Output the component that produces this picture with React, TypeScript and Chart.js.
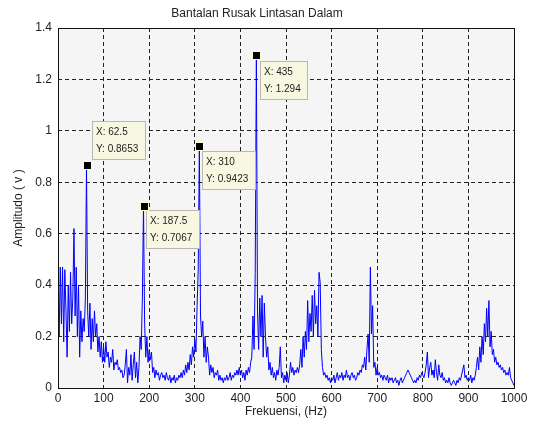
import React, { useEffect, useRef } from "react";
import { Chart, registerables } from "chart.js";

Chart.register(...registerables);

const TITLE = "Bantalan Rusak Lintasan Dalam";
const X_LABEL = "Frekuensi, (Hz)";
const Y_LABEL = "Amplitudo ( v )";

const FREQ_STEP = 2.5; // Hz between spectrum samples

const X_TICK_VALUES = [0, 100, 200, 300, 400, 500, 600, 700, 800, 900, 1000];
const X_TICK_LABELS = ["0", "100", "200", "300", "400", "500", "600", "700", "800", "900", "1000"];
const Y_TICK_VALUES = [0, 0.2, 0.4, 0.6, 0.8, 1.0, 1.2, 1.4];
const Y_TICK_LABELS = ["0", "0.2", "0.4", "0.6", "0.8", "1", "1.2", "1.4"];

// amplitude, 0 .. 97.5 Hz
const AMP_000 = [
  0.36, 0.2, 0.47, 0.25, 0.47, 0.18, 0.46, 0.3, 0.12, 0.4,
  0.22, 0.45, 0.25, 0.35, 0.62, 0.28, 0.47, 0.2, 0.4, 0.12,
  0.3, 0.18, 0.27, 0.22, 0.35, 0.8653, 0.3, 0.2, 0.33, 0.15,
  0.27, 0.18, 0.3, 0.2, 0.25, 0.14, 0.2, 0.12, 0.18, 0.1,
];
// 100 .. 197.5 Hz
const AMP_100 = [
  0.16, 0.1, 0.18, 0.12, 0.14, 0.08, 0.12, 0.1, 0.15, 0.07,
  0.1, 0.09, 0.11, 0.07, 0.08, 0.06, 0.07, 0.04, 0.05, 0.09,
  0.15, 0.02, 0.08, 0.05, 0.13, 0.03, 0.09, 0.14, 0.04, 0.1,
  0.02, 0.08, 0.2, 0.15, 0.35, 0.7067, 0.25, 0.12, 0.2, 0.1,
];
// 200 .. 297.5 Hz
const AMP_200 = [
  0.15, 0.11, 0.14, 0.06, 0.08, 0.04, 0.07, 0.05, 0.06, 0.03,
  0.05, 0.06, 0.04, 0.05, 0.03, 0.06, 0.04, 0.03, 0.05, 0.02,
  0.04, 0.03, 0.05, 0.02, 0.04, 0.03, 0.05, 0.04, 0.06, 0.04,
  0.07, 0.05, 0.09, 0.06, 0.1, 0.07, 0.13, 0.09, 0.16, 0.12,
];
// 300 .. 397.5 Hz
const AMP_300 = [
  0.19, 0.14, 0.32, 0.46, 0.9423, 0.28, 0.2, 0.26, 0.12, 0.2,
  0.1, 0.16, 0.12, 0.05, 0.09, 0.06, 0.08, 0.04, 0.06, 0.05,
  0.07, 0.03, 0.05, 0.03, 0.04, 0.02, 0.04, 0.03, 0.05, 0.03,
  0.04, 0.06, 0.03, 0.05, 0.04, 0.06, 0.05, 0.07, 0.05, 0.08,
];
// 400 .. 497.5 Hz
const AMP_400 = [
  0.05, 0.07, 0.04, 0.06, 0.03, 0.07, 0.05, 0.08, 0.06, 0.1,
  0.12, 0.28, 0.15, 0.45, 1.294, 0.3, 0.15, 0.35, 0.2, 0.36,
  0.12, 0.33, 0.2, 0.12, 0.16, 0.07, 0.1, 0.05, 0.08, 0.04,
  0.06, 0.03, 0.07, 0.05, 0.08, 0.16, 0.04, 0.06, 0.02, 0.05,
];
// 500 .. 597.5 Hz
const AMP_500 = [
  0.03, 0.06, 0.02, 0.05, 0.1, 0.06, 0.08, 0.05, 0.07, 0.06,
  0.08, 0.06, 0.09, 0.15, 0.08, 0.2, 0.12, 0.22, 0.15, 0.34,
  0.18, 0.29, 0.22, 0.36, 0.2, 0.38, 0.25, 0.32, 0.2, 0.45,
  0.41, 0.15, 0.08, 0.05, 0.06, 0.04, 0.05, 0.03, 0.04, 0.02,
];
// 600 .. 697.5 Hz
const AMP_600 = [
  0.04, 0.03, 0.05, 0.02, 0.04, 0.06, 0.03, 0.05, 0.04, 0.06,
  0.03, 0.05, 0.04, 0.07, 0.04, 0.05, 0.03, 0.05, 0.06, 0.04,
  0.05, 0.03, 0.04, 0.06, 0.05, 0.07, 0.06, 0.09, 0.08, 0.12,
  0.07, 0.15, 0.21, 0.1, 0.47, 0.21, 0.32, 0.08, 0.1, 0.05,
];
// 700 .. 797.5 Hz
const AMP_700 = [
  0.08, 0.05, 0.06, 0.04, 0.05, 0.03, 0.05, 0.04, 0.03, 0.05,
  0.02, 0.04, 0.03, 0.04, 0.02, 0.03, 0.04, 0.02, 0.03, 0.01,
  0.03, 0.04, 0.02, 0.03, 0.04, 0.05, 0.06, 0.07, 0.06, 0.05,
  0.04, 0.03, 0.02, 0.03, 0.02, 0.04, 0.03, 0.05, 0.04, 0.06,
];
// 800 .. 897.5 Hz
const AMP_800 = [
  0.05, 0.04, 0.06, 0.09, 0.14, 0.04, 0.08, 0.1, 0.05, 0.07,
  0.04, 0.11, 0.06, 0.03, 0.09, 0.05, 0.04, 0.06, 0.03, 0.04,
  0.02, 0.03, 0.02, 0.04, 0.02, 0.01, 0.02, 0.03, 0.02, 0.01,
  0.03, 0.02, 0.04, 0.03, 0.05, 0.07, 0.09, 0.04, 0.05, 0.03,
];
// 900 .. 1000 Hz
const AMP_900 = [
  0.04, 0.03, 0.05, 0.02, 0.04, 0.03, 0.05, 0.08, 0.12, 0.07,
  0.16, 0.1, 0.2, 0.13, 0.25, 0.18, 0.31, 0.2, 0.34, 0.16,
  0.22, 0.13, 0.15, 0.1, 0.12, 0.09, 0.1, 0.08, 0.09, 0.07,
  0.08, 0.06, 0.07, 0.05, 0.06, 0.05, 0.08, 0.04, 0.03, 0.02,
  0.01,
];

const AMPLITUDE = [
  ...AMP_000, ...AMP_100, ...AMP_200, ...AMP_300, ...AMP_400,
  ...AMP_500, ...AMP_600, ...AMP_700, ...AMP_800, ...AMP_900,
];

// data tips
const TIP_X = [62.5, 187.5, 310, 435];
const TIP_Y = [0.8653, 0.7067, 0.9423, 1.294];
const TIP_X_TEXT = ["62.5", "187.5", "310", "435"];
const TIP_Y_TEXT = ["0.8653", "0.7067", "0.9423", "1.294"];

// layout of the tip boxes relative to their markers (pixels)
const TIP_BOX_OFFSET = [
  { dx: 5, dy: -44 },
  { dx: 2, dy: 4 },
  { dx: 3, dy: 5 },
  { dx: 4, dy: 6 },
];

const FONT = "'Liberation Sans', Arial, sans-serif";

const framePlugin = {
  id: "matlabFrame",
  beforeDraw(chart: any) {
    const { ctx, chartArea } = chart;
    ctx.save();
    ctx.fillStyle = "#f5f5f5";
    ctx.fillRect(chartArea.left, chartArea.top, chartArea.right - chartArea.left, chartArea.bottom - chartArea.top);
    ctx.restore();
  },
  afterDatasetsDraw(chart: any) {
    const { ctx, chartArea } = chart;
    ctx.save();
    ctx.strokeStyle = "#111";
    ctx.lineWidth = 1;
    ctx.strokeRect(
      Math.round(chartArea.left) + 0.5,
      Math.round(chartArea.top) + 0.5,
      Math.round(chartArea.right - chartArea.left),
      Math.round(chartArea.bottom - chartArea.top)
    );
    ctx.restore();
  },
  afterDraw(chart: any) {
    const { ctx } = chart;
    const xs = chart.scales.x;
    const ys = chart.scales.y;
    ctx.save();
    ctx.font = `10px ${FONT}`;
    ctx.textBaseline = "middle";
    ctx.textAlign = "left";
    TIP_X.forEach((xv, i) => {
      const px = Math.round(xs.getPixelForValue(xv));
      const py = Math.round(ys.getPixelForValue(TIP_Y[i]));
      const l1 = `X: ${TIP_X_TEXT[i]}`;
      const l2 = `Y: ${TIP_Y_TEXT[i]}`;
      const w = Math.ceil(Math.max(ctx.measureText(l1).width, ctx.measureText(l2).width)) + 11;
      const h = 39;
      const bx = px + TIP_BOX_OFFSET[i].dx;
      const by = py + TIP_BOX_OFFSET[i].dy;
      ctx.fillStyle = "#f8f8e2";
      ctx.fillRect(bx, by, w, h);
      ctx.strokeStyle = "#b8b8b0";
      ctx.lineWidth = 1;
      ctx.strokeRect(bx + 0.5, by + 0.5, w - 1, h - 1);
      ctx.fillStyle = "#222";
      ctx.fillText(l1, bx + 4, by + 11);
      ctx.fillText(l2, bx + 4, by + 28);
      // marker
      ctx.fillStyle = "#ffffd0";
      ctx.fillRect(px - 4, py - 4, 9, 9);
      ctx.fillStyle = "#000";
      ctx.fillRect(px - 3, py - 3, 7, 7);
    });
    ctx.restore();
  },
};

export default function App() {
  const canvasRef = useRef<HTMLCanvasElement | null>(null);

  useEffect(() => {
    if (!canvasRef.current) return;
    Chart.defaults.font.family = FONT;
    const points = AMPLITUDE.map((v, i) => ({ x: i * FREQ_STEP, y: v }));
    const chart = new Chart(canvasRef.current, {
      type: "line",
      data: {
        datasets: [
          {
            data: points,
            borderColor: "#0000ff",
            borderWidth: 1,
            pointRadius: 0,
            fill: false,
            tension: 0,
          },
        ],
      },
      options: {
        animation: false,
        responsive: true,
        maintainAspectRatio: false,
        parsing: false,
        normalized: true,
        layout: { padding: { left: 0, right: 21, top: 0, bottom: 0 } },
        plugins: {
          legend: { display: false },
          tooltip: { enabled: false },
          title: {
            display: true,
            text: TITLE,
            color: "#222",
            font: { size: 12, weight: "normal", lineHeight: 1 },
            padding: { top: 8, bottom: 8 },
          },
        },
        scales: {
          x: {
            type: "linear",
            min: 0,
            max: 1000,
            afterFit: (s: any) => {
              s.height = 42;
            },
            afterBuildTicks: (s: any) => {
              s.ticks = X_TICK_VALUES.map((v) => ({ value: v }));
            },
            ticks: {
              color: "#222",
              font: { size: 12 },
              padding: 3,
              maxRotation: 0,
              autoSkip: false,
              callback: (_v: any, i: number) => X_TICK_LABELS[i],
            },
            grid: { color: "#222", lineWidth: 1, drawTicks: false },
            border: { display: false, dash: [4, 3] },
            title: {
              display: true,
              text: X_LABEL,
              color: "#222",
              font: { size: 12 },
              padding: { top: 0, bottom: 11 },
            },
          },
          y: {
            type: "linear",
            min: 0,
            max: 1.4,
            afterFit: (s: any) => {
              s.width = 58;
            },
            afterBuildTicks: (s: any) => {
              s.ticks = Y_TICK_VALUES.map((v) => ({ value: v }));
            },
            ticks: {
              color: "#222",
              font: { size: 12 },
              padding: 6,
              autoSkip: false,
              callback: (_v: any, i: number) => Y_TICK_LABELS[i],
            },
            grid: { color: "#222", lineWidth: 1, drawTicks: false },
            border: { display: false, dash: [4, 3] },
            title: {
              display: true,
              text: Y_LABEL,
              color: "#222",
              font: { size: 12 },
              padding: { top: 11, bottom: 0 },
            },
          },
        },
      },
      plugins: [framePlugin],
    });
    return () => chart.destroy();
  }, []);

  return (
    <div style={{ position: "fixed", left: 0, top: 0, width: 535, height: 430, background: "#fff" }}>
      <canvas ref={canvasRef} />
    </div>
  );
}
